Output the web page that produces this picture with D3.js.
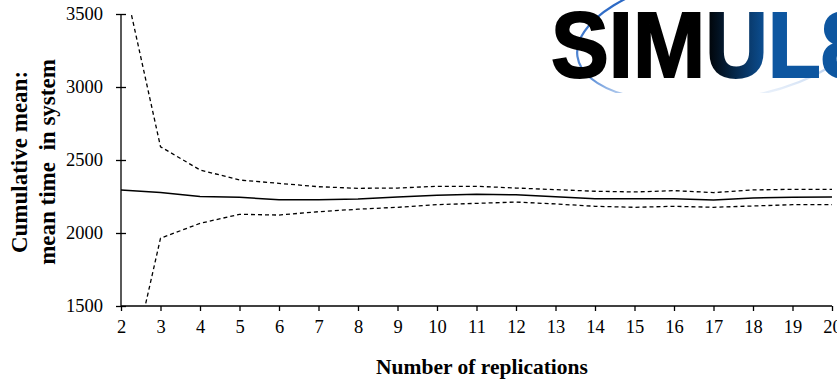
<!DOCTYPE html>
<html>
<head>
<meta charset="utf-8">
<script src="https://cdn.jsdelivr.net/npm/d3@7/dist/d3.min.js"></script>
<style>
  html, body { margin: 0; padding: 0; background: #fff; }
  svg { display: block; }
  .tick text { font-family: 'Liberation Serif', 'Times New Roman', serif; }
</style>
</head>
<body>
<svg id="chart" width="837" height="379"></svg>
<script>
// ---- Data ----
const replications = [2,3,4,5,6,7,8,9,10,11,12,13,14,15,16,17,18,19,20];
const cumulativeMean = [2295,2278,2250,2245,2228,2228,2233,2246,2258,2266,2262,2249,2235,2234,2235,2226,2240,2245,2246];
const upperConf = [3820,2591,2432,2363,2340,2317,2306,2308,2320,2320,2308,2297,2286,2281,2290,2277,2295,2299,2299];
const lowerConf = [770,1964,2066,2128,2123,2146,2163,2176,2194,2203,2212,2199,2183,2176,2183,2176,2185,2194,2194];
const yTicks = [1500,2000,2500,3000,3500];
const xTicks = replications;
const yTitleLines = ["Cumulative mean:", "mean time  in system"];
const xTitle = "Number of replications";
const logoText = "SIMUL8";

const svg = d3.select("#chart");
const W = 837, H = 379;
const serif = "'Liberation Serif', 'Times New Roman', serif";

// ---- Logo (behind plot) ----
const defs = svg.append("defs");
const grad = defs.append("linearGradient").attr("id","logoGrad")
  .attr("gradientUnits","userSpaceOnUse").attr("x1",705).attr("x2",770).attr("y1",0).attr("y2",0);
grad.append("stop").attr("offset","0%").attr("stop-color","#000");
grad.append("stop").attr("offset","100%").attr("stop-color","#0d56a0");
const swGrad = defs.append("linearGradient").attr("id","swooshGrad")
  .attr("x1","0").attr("y1","0").attr("x2","0").attr("y2","1");
swGrad.append("stop").attr("offset","0%").attr("stop-color","#1f5fc0").attr("stop-opacity",1);
swGrad.append("stop").attr("offset","70%").attr("stop-color","#3a78d0").attr("stop-opacity",0.8);
swGrad.append("stop").attr("offset","100%").attr("stop-color","#9fbfea").attr("stop-opacity",0.2);

const logo = svg.append("g").attr("class","logo");
logo.append("ellipse")
  .attr("cx",722).attr("cy",36).attr("rx",146).attr("ry",64)
  .attr("transform","rotate(-8,722,36)")
  .attr("fill","none").attr("stroke","url(#swooshGrad)").attr("stroke-width",2.2);
logo.append("rect").attr("x",470).attr("y",93).attr("width",367).attr("height",20).attr("fill","#fff");
logo.append("text")
  .attr("x",551).attr("y",77)
  .attr("font-family","'Liberation Sans', Arial, sans-serif")
  .attr("font-weight","bold")
  .attr("font-size",92)
  .attr("textLength",318).attr("lengthAdjust","spacingAndGlyphs")
  .attr("fill","url(#logoGrad)")
  .attr("stroke","url(#logoGrad)").attr("stroke-width",2)
  .text(logoText);

// ---- Scales ----
const x = d3.scaleLinear().domain([2,20]).range([121,832]);
const y = d3.scaleLinear().domain([1500,3500]).range([306,14]);

// clip for plot area
defs.append("clipPath").attr("id","plotClip").append("rect")
  .attr("x",121).attr("y",y(3500)).attr("width",W-121).attr("height",y(1500)-y(3500));

// ---- Lines ----
const line = d3.line().x((d,i)=>x(replications[i])).y(d=>y(d));
const plot = svg.append("g").attr("clip-path","url(#plotClip)");
plot.append("path").datum(upperConf).attr("d",line)
  .attr("fill","none").attr("stroke","#000").attr("stroke-width",1.3).attr("stroke-dasharray","4,3");
plot.append("path").datum(lowerConf).attr("d",line)
  .attr("fill","none").attr("stroke","#000").attr("stroke-width",1.3).attr("stroke-dasharray","4,3");
plot.append("path").datum(cumulativeMean).attr("d",line)
  .attr("fill","none").attr("stroke","#000").attr("stroke-width",1.5);

// ---- Axes ----
const yAxis = d3.axisLeft(y).tickValues(yTicks).tickFormat(d3.format("d")).tickSize(5).tickPadding(13);
const gy = svg.append("g").attr("transform","translate(121,0)").call(yAxis)
  .attr("font-family",serif).attr("font-size",18.5);
gy.select(".domain").attr("stroke","#000").attr("stroke-width",1.3).attr("d","M0,"+y(3500)+"V"+y(1500));
gy.selectAll(".tick line").attr("x1",-5).attr("x2",5).attr("stroke","#000").attr("stroke-width",1.3);
gy.selectAll(".tick text").attr("fill","#000");

const xAxis = d3.axisBottom(x).tickValues(xTicks).tickFormat(d3.format("d")).tickSize(5).tickPadding(9);
const gx = svg.append("g").attr("transform","translate(0,306)").call(xAxis)
  .attr("font-family",serif).attr("font-size",18.5);
gx.select(".domain").attr("stroke","#000").attr("stroke-width",1.3).attr("d","M"+x(2)+",0H"+x(20));
gx.selectAll(".tick line").attr("stroke","#000").attr("stroke-width",1.3);
gx.selectAll(".tick text").attr("fill","#000");

// ---- Titles ----
const yt = svg.append("text")
  .attr("transform","translate(27,162) rotate(-90)")
  .attr("text-anchor","middle")
  .attr("font-family",serif).attr("font-weight","bold").attr("font-size",23)
  .attr("fill","#000").attr("xml:space","preserve");
yTitleLines.forEach((t,i)=>{
  yt.append("tspan").attr("x",0).attr("dy", i===0 ? 0 : 28).text(t);
});

svg.append("text")
  .attr("x",482).attr("y",374)
  .attr("text-anchor","middle")
  .attr("font-family",serif).attr("font-weight","bold").attr("font-size",21.5)
  .attr("fill","#000")
  .text(xTitle);
</script>
</body>
</html>
